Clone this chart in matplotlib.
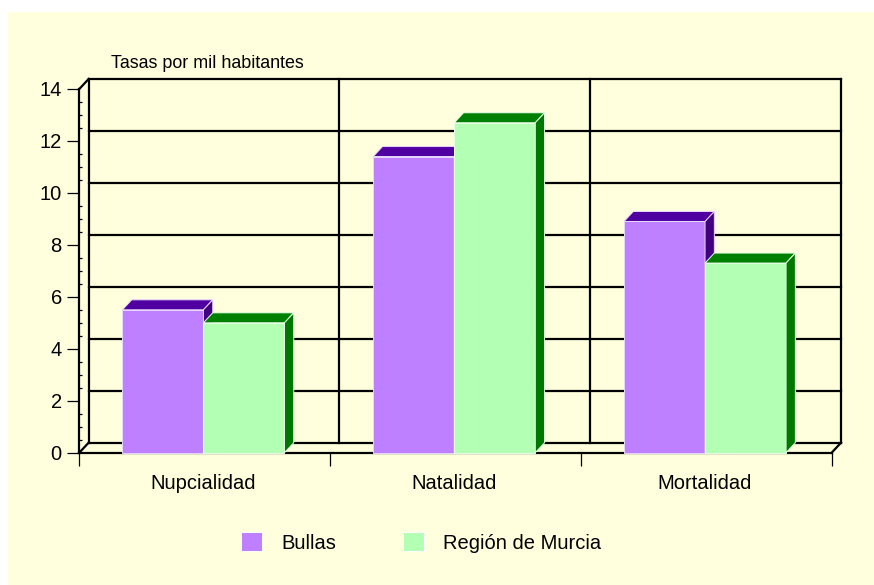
import matplotlib
matplotlib.use("Agg")
import matplotlib.pyplot as plt
from matplotlib.patches import Rectangle, Polygon, Patch
from matplotlib.ticker import MultipleLocator

categories = ["Nupcialidad", "Natalidad", "Mortalidad"]
series_names = ["Bullas", "Región de Murcia"]
bullas = [5.5, 11.4, 8.9]
murcia = [5.0, 12.7, 7.3]
y_ticks = [0, 2, 4, 6, 8, 10, 12, 14]
y_label = "Tasas por mil habitantes"

plt.rcParams['font.family'] = ['Liberation Sans', 'DejaVu Sans']

W, H = 874, 585
fig = plt.figure(figsize=(W / 100, H / 100), dpi=100, facecolor='white')
fig.patches.append(Rectangle((8 / W, 0), 1 - 8 / W, 1 - 12 / H, transform=fig.transFigure,
                             facecolor='#FFFFDD', edgecolor='none', zorder=-10))

x0p, x1p = 79.3, 831.7
y0p, y1p = 452.7, 89.0
ax = fig.add_axes([x0p / W, (H - y0p) / H, (x1p - x0p) / W, (y0p - y1p) / H])
ax.set_facecolor('none')
ax.set_xlim(0, 3)
ax.set_ylim(0, 14)
for s in ax.spines.values():
    s.set_visible(False)

# depth offsets in data units
dx = 9.3 / ((x1p - x0p) / 3)
dy = 10.0 / ((y0p - y1p) / 14)

lw = 1.6
k = dict(color='black', lw=lw, clip_on=False, solid_capstyle='projecting')
# back wall gridlines
for t in y_ticks:
    ax.plot([dx, 3 + dx], [t + dy, t + dy], zorder=1, **k)
# back wall verticals
for c in [1, 2, 3]:
    ax.plot([c + dx, c + dx], [dy, 14 + dy], zorder=1, **k)
# left wall
ax.plot([dx, dx], [dy, 14 + dy], zorder=1, **k)
ax.plot([0, dx], [14, 14 + dy], zorder=1, **k)
ax.plot([0, dx], [0, dy], zorder=1, **k)
ax.plot([0, 0], [0, 14], zorder=4, **k)
# floor front line and right diagonal
ax.plot([0, 3], [0, 0], zorder=1, **k)
ax.plot([3, 3 + dx], [0, dy], zorder=1, **k)

bw = 0.323
center_off = 0.495
styles = [
    dict(front='#BF80FF', top='#5000A0', side='#400080', edge='#E8D8FF'),
    dict(front='#B3FFB3', top='#008000', side='#007800', edge='#E8FFE8'),
]

for i, cat in enumerate(categories):
    for j, vals in enumerate([bullas, murcia]):
        v = vals[i]
        st = styles[j]
        xa = i + center_off - bw + j * bw
        xb = xa + bw
        ax.add_patch(Rectangle((xa, 0), bw, v, facecolor=st['front'], edgecolor=st['edge'],
                               lw=0.7, zorder=3 + j, clip_on=False))
        ax.add_patch(Polygon([(xa, v), (xb, v), (xb + dx, v + dy), (xa + dx, v + dy)],
                             closed=True, facecolor=st['top'], edgecolor=st['edge'],
                             lw=0.7, zorder=3 + j, clip_on=False))
        ax.add_patch(Polygon([(xb, 0), (xb + dx, dy), (xb + dx, v + dy), (xb, v)],
                             closed=True, facecolor=st['side'], edgecolor=st['edge'],
                             lw=0.7, zorder=3 + j, clip_on=False))

# y ticks
ax.set_yticks(y_ticks)
ax.set_yticklabels([str(t) for t in y_ticks], fontsize=14.5)
ax.yaxis.set_minor_locator(MultipleLocator(0.5))
ax.tick_params(axis='y', which='major', direction='out', length=8.6, width=0.9, pad=4)
ax.tick_params(axis='y', which='minor', direction='in', length=2.2, width=0.9)

# x ticks: labels at groups, tick marks at boundaries
ax.set_xticks([i + center_off for i in range(len(categories))])
ax.set_xticklabels(categories, fontsize=14.5)
ax.set_xticks([0, 1, 2, 3], minor=True)
ax.tick_params(axis='x', which='major', length=0, pad=15)
ax.tick_params(axis='x', which='minor', direction='out', length=9, width=0.9)

fig.text(111 / W, 1 - 63.5 / H, y_label, fontsize=12.9, ha='left', va='center')

handles = [Patch(facecolor=styles[0]['front'], edgecolor='white', lw=0.7),
           Patch(facecolor=styles[1]['front'], edgecolor='white', lw=0.7)]
fig.legend(handles, series_names, loc='center left', bbox_to_anchor=(241 / W, 1 - 542.5 / H),
           ncol=2, frameon=False, fontsize=14.5, handlelength=1.05, handleheight=1.05,
           handletextpad=0.95, columnspacing=3.3, borderpad=0, borderaxespad=0)

fig.savefig('out.png', dpi=100, facecolor=fig.get_facecolor())
